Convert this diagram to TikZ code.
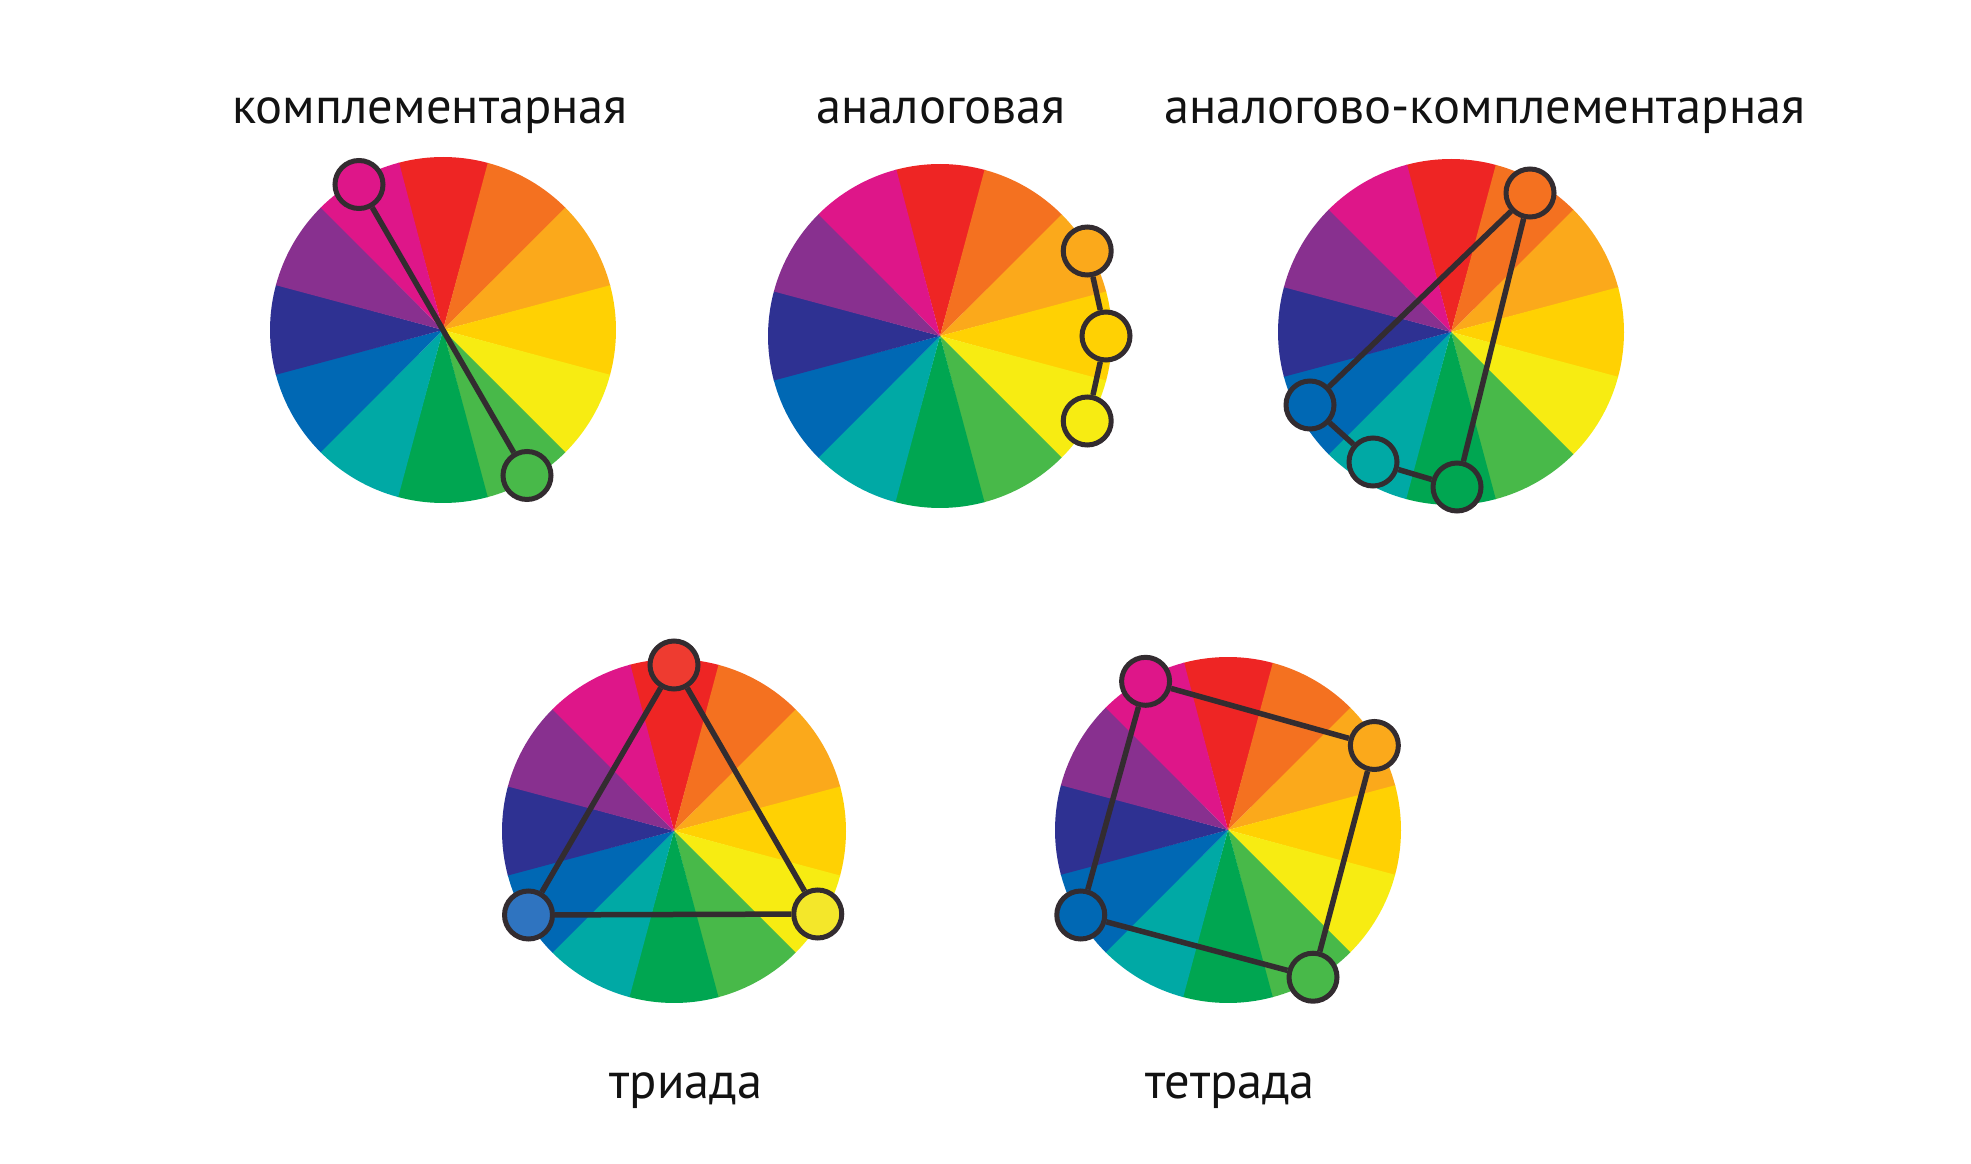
\documentclass[tikz,border=0pt]{standalone}
\usepackage{fontspec}
\setmainfont{PT Sans}
\definecolor{cR}{HTML}{EE2524}
\definecolor{cO}{HTML}{F47120}
\definecolor{cLO}{HTML}{FBA91B}
\definecolor{cG}{HTML}{FFD103}
\definecolor{cY}{HTML}{F7EC12}
\definecolor{cLG}{HTML}{48B949}
\definecolor{cGr}{HTML}{00A651}
\definecolor{cT}{HTML}{00A9A5}
\definecolor{cB}{HTML}{0068B4}
\definecolor{cI}{HTML}{2E3192}
\definecolor{cP}{HTML}{88308F}
\definecolor{cM}{HTML}{DE1689}
\definecolor{linec}{HTML}{332C30}
\definecolor{mR}{HTML}{EE3B30}
\definecolor{mB}{HTML}{2F74C0}
\definecolor{mY}{HTML}{F4E72A}
\newcommand{\cwheel}[3]{%
  \begin{scope}[shift={(#1,#2)}]
    \foreach \c [count=\i from 0] in {cR,cO,cLO,cG,cY,cLG,cGr,cT,cB,cI,cP,cM}{
      \pgfmathsetmacro\a{105-30*\i}
      \fill[\c] (0,0) -- (\a:#3) arc[start angle=\a, end angle=\a-30.3, radius=#3] -- cycle;
    }
  \end{scope}}
\begin{document}
\begin{tikzpicture}[x=1pt,y=1pt,
  mk/.style={circle,draw=linec,line width=5pt,minimum size=48pt,inner sep=0pt},
  cn/.style={draw=linec,line width=5.5pt},
  ttl/.style={anchor=base,font=\fontsize{50.5}{58}\selectfont,text={black!93},inner sep=0pt}]
\useasboundingbox (0,0) rectangle (1971,1163);
\fill[white] (0,0) rectangle (1971,1163);

% titles
\node[ttl] (t1) at (430,1039) {комплементарная};
\node[ttl] (t2) at (941,1039) {аналоговая};
\node[ttl] (t3) at (1485,1039) {аналогово-комплементарная};
\node[ttl] (t4) at (686,65) {триада};
\node[ttl] (t5) at (1230,65) {тетрада};

% wheel 1: complementary
\cwheel{443}{833}{173}
\begin{scope}[shift={(443,833)}]
  \node[mk,fill=cM] (a1) at (120:168) {};
  \node[mk,fill=cLG] (a2) at (-60:168) {};
\end{scope}
\draw[cn] (a1) -- (a2);

% wheel 2: analogous
\cwheel{940}{827}{172}
\begin{scope}[shift={(940,827)}]
  \node[mk,fill=cLO] (b1) at (30:170) {};
  \node[mk,fill=cG] (b2) at (0:166) {};
  \node[mk,fill=cY] (b3) at (-30:170) {};
\end{scope}
\draw[cn] (b1) -- (b2);
\draw[cn] (b2) -- (b3);

% wheel 3: analogous-complementary
\cwheel{1451}{831}{173}
\begin{scope}[shift={(1451,831)}]
  \node[mk,fill=cO] (c1) at (79,139) {};
  \node[mk,fill=cB] (c2) at (-141,-73) {};
  \node[mk,fill=cT] (c3) at (-78,-130) {};
  \node[mk,fill=cGr] (c4) at (6,-155) {};
\end{scope}
\draw[cn] (c1) -- (c2);
\draw[cn] (c2) -- (c3);
\draw[cn] (c3) -- (c4);
\draw[cn] (c4) -- (c1);

% wheel 4: triad
\cwheel{674}{332}{172}
\begin{scope}[shift={(674,332)}]
  \node[mk,fill=mR] (d1) at (90:166) {};
  \node[mk,fill=mB] (d2) at (210:168) {};
  \node[mk,fill=mY] (d3) at (-30:166) {};
\end{scope}
\draw[cn] (d1) -- (d2);
\draw[cn] (d2) -- (d3);
\draw[cn] (d3) -- (d1);

% wheel 5: tetrad
\cwheel{1228}{333}{173}
\begin{scope}[shift={(1228,333)}]
  \node[mk,fill=cM] (e1) at (119:170) {};
  \node[mk,fill=cLO] (e2) at (30:169) {};
  \node[mk,fill=cLG] (e3) at (-60:170) {};
  \node[mk,fill=cB] (e4) at (210:170) {};
\end{scope}
\draw[cn] (e1) -- (e2);
\draw[cn] (e2) -- (e3);
\draw[cn] (e3) -- (e4);
\draw[cn] (e4) -- (e1);
\end{tikzpicture}
\end{document}
